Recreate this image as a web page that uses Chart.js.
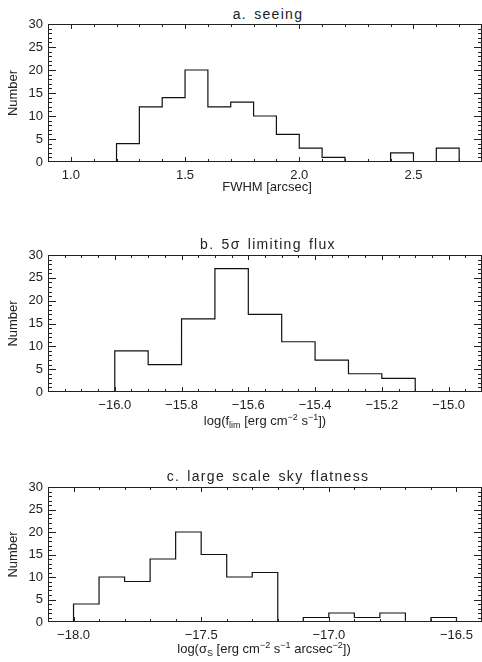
<!DOCTYPE html>
<html>
<head>
<meta charset="UTF-8">
<title>seeing / limiting flux / sky flatness</title>
<script src="https://cdn.jsdelivr.net/npm/chart.js"></script>
<style>
    body { margin: 0; background: #fff; }
    #wrap { position: relative; width: 482px; height: 662px; overflow: hidden; font-family: "Liberation Sans", Arial, sans-serif; color: #222; }
    .panel { position: absolute; left: 0; width: 482px; }
    .ptitle { position: absolute; font-size: 14px; line-height: 16px; letter-spacing: 1.3px; word-spacing: 2px; white-space: nowrap; transform: translateX(-50%); }
    .xtitle { position: absolute; font-size: 13px; line-height: 16px; white-space: nowrap; transform: translateX(-50%); }
    .xtitle sup, .xtitle sub { font-size: 9px; line-height: 0; position: relative; vertical-align: baseline; }
    .xtitle sup { top: -5px; }
    .xtitle sub { top: 3px; }
</style>
</head>
<body>
<div id="wrap">
    <div class="ptitle" style="left:268px; top:6px;">a. seeing</div>
    <div class="panel" style="top:0; height:200px;"><canvas id="seeingChart"></canvas></div>
    <div class="xtitle" style="left:267px; top:179px;">FWHM [arcsec]</div>

    <div class="ptitle" style="left:268px; top:236px;">b. 5σ limiting flux</div>
    <div class="panel" style="top:231px; height:199px;"><canvas id="fluxChart"></canvas></div>
    <div class="xtitle" style="left:265px; top:413px;">log(f<sub>lim</sub> [erg cm<sup>−2</sup> s<sup>−1</sup>])</div>

    <div class="ptitle" style="left:268px; top:468px;">c. large scale sky flatness</div>
    <div class="panel" style="top:463px; height:197px;"><canvas id="flatChart"></canvas></div>
    <div class="xtitle" style="left:264px; top:641px;">log(σ<sub>S</sub> [erg cm<sup>−2</sup> s<sup>−1</sup> arcsec<sup>−2</sup>])</div>
</div>

<script>
    // 直方图数据：左边界 + 计数（最后一个点是右边界）
    const seeingEdges = [0.9, 1.0, 1.1, 1.2, 1.3, 1.4, 1.5, 1.6, 1.7, 1.8, 1.9, 2.0, 2.1, 2.2, 2.3, 2.4, 2.5, 2.6, 2.7, 2.8];
    const seeingCounts = [0, 0, 0, 4, 12, 14, 20, 12, 13, 10, 6, 3, 1, 0, 0, 2, 0, 3, 0, 0];
    const seeingTicks = [1.0, 1.5, 2.0, 2.5];

    const fluxEdges = [-16.2, -16.1, -16.0, -15.9, -15.8, -15.7, -15.6, -15.5, -15.4, -15.3, -15.2, -15.1, -15.0, -14.9];
    const fluxCounts = [0, 0, 9, 6, 16, 27, 17, 11, 7, 4, 3, 0, 0, 0];
    const fluxTicks = [-16.0, -15.8, -15.6, -15.4, -15.2, -15.0];

    const flatEdges = [-18.1, -18.0, -17.9, -17.8, -17.7, -17.6, -17.5, -17.4, -17.3, -17.2, -17.1, -17.0, -16.9, -16.8, -16.7, -16.6, -16.5, -16.4];
    const flatCounts = [0, 4, 10, 9, 14, 20, 15, 10, 11, 0, 1, 2, 1, 2, 0, 1, 0, 0];
    const flatTicks = [-18.0, -17.5, -17.0, -16.5];

    const numberTicks = [0, 5, 10, 15, 20, 25, 30];

    Chart.defaults.font.family = '"Liberation Sans", Arial, sans-serif';
    Chart.defaults.font.size = 13;
    Chart.defaults.color = '#222';

    // IDL 风格的边框和向内刻度
    const frameTicks = {
        id: 'frameTicks',
        afterDraw(chart, args, opts) {
            const { ctx, chartArea: a, scales: { x, y } } = chart;
            ctx.save();
            ctx.strokeStyle = '#222';
            ctx.lineWidth = 1;
            ctx.strokeRect(a.left + 0.5, a.top + 0.5, a.right - a.left - 1, a.bottom - a.top - 1);
            ctx.beginPath();
            const i0 = Math.ceil(x.min / opts.xMinor - 1e-6), i1 = Math.floor(x.max / opts.xMinor + 1e-6);
            for (let i = i0; i <= i1; i++) {
                const v = i * opts.xMinor;
                const r = v / opts.xMajor;
                const len = Math.abs(r - Math.round(r)) < 1e-6 ? 5 : 3;
                const px = Math.round(x.getPixelForValue(v)) + 0.5;
                ctx.moveTo(px, a.bottom); ctx.lineTo(px, a.bottom - len);
                ctx.moveTo(px, a.top); ctx.lineTo(px, a.top + len);
            }
            for (let v = 1; v < 30; v++) {
                const len = v % 5 === 0 ? 8 : 4;
                const py = Math.round(y.getPixelForValue(v)) + 0.5;
                ctx.moveTo(a.left, py); ctx.lineTo(a.left + len, py);
                ctx.moveTo(a.right, py); ctx.lineTo(a.right - len, py);
            }
            ctx.stroke();
            ctx.restore();
        }
    };

    function fmt(v) {
        const s = Math.abs(v).toFixed(1);
        return v < 0 ? '\u2212' + s : s;
    }

    function makePanel(id, edges, counts, ticks, xMinor, xMajor) {
        new Chart(document.getElementById(id), {
            type: 'line',
            data: {
                datasets: [{
                    data: edges.map((e, i) => ({ x: e, y: counts[i] })),
                    stepped: 'before',
                    borderColor: '#111',
                    borderWidth: 1.2,
                    pointRadius: 0,
                    fill: false
                }]
            },
            options: {
                responsive: true,
                maintainAspectRatio: false,
                animation: false,
                layout: { padding: { top: 24, right: 0, left: 0, bottom: 0 } },
                plugins: {
                    legend: { display: false },
                    tooltip: { enabled: false },
                    frameTicks: { xMinor: xMinor, xMajor: xMajor }
                },
                scales: {
                    x: {
                        type: 'linear',
                        min: edges[0],
                        max: edges[edges.length - 1],
                        grid: { display: false, drawTicks: false },
                        border: { display: false },
                        ticks: { padding: 6, maxRotation: 0, callback: v => fmt(v) },
                        afterBuildTicks: s => { s.ticks = ticks.map(v => ({ value: v })); },
                        afterFit: s => { s.height = 38; }
                    },
                    y: {
                        min: 0,
                        max: 30,
                        grid: { display: false, drawTicks: false },
                        border: { display: false },
                        ticks: { padding: 5 },
                        afterBuildTicks: s => { s.ticks = numberTicks.map(v => ({ value: v })); },
                        title: { display: true, text: 'Number', padding: { top: 6, bottom: 0 } },
                        afterFit: s => { s.width = 48; }
                    }
                }
            },
            plugins: [frameTicks]
        });
    }

    makePanel('seeingChart', seeingEdges, seeingCounts, seeingTicks, 0.1, 0.5);
    makePanel('fluxChart', fluxEdges, fluxCounts, fluxTicks, 0.05, 0.2);
    makePanel('flatChart', flatEdges, flatCounts, flatTicks, 0.1, 0.5);
</script>
</body>
</html>
